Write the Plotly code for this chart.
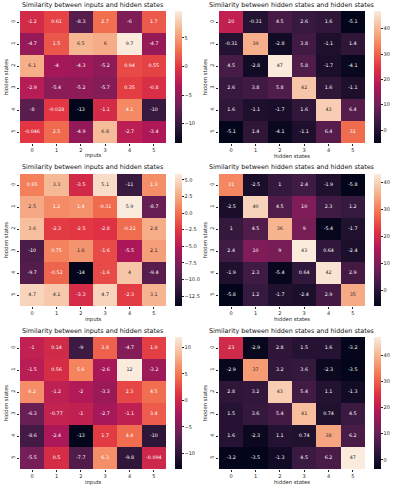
import plotly.graph_objects as go

# -------------------------------
# DATA
# -------------------------------
inp_hid_1 = [
    [-1.2, 0.61, -8.3, 2.7, -6, 1.7],
    [-4.7, 1.5, 6.5, 6, 9.7, -4.7],
    [6.1, -4, -4.3, -5.2, 0.94, 0.55],
    [-2.9, -5.4, -5.2, -5.7, 0.35, -0.8],
    [-8, -0.028, -13.4, -1.1, 4.1, -10],
    [-0.046, 2.5, -4.9, 6.8, -2.7, -3.4],
]
hid_hid_1 = [
    [20, -0.31, 4.5, 2.6, 1.6, -5.1],
    [-0.31, 39, -2.8, 3.8, -1.1, 1.4],
    [4.5, -2.8, 47, 5.8, -1.7, -4.1],
    [2.6, 3.8, 5.8, 42, 1.6, -1.1],
    [1.6, -1.1, -1.7, 1.6, 43, 6.4],
    [-5.1, 1.4, -4.1, -1.1, 6.4, 31],
]
inp_hid_2 = [
    [0.65, 3.3, -3.5, 5.1, -11, 1.3],
    [2.5, 1.2, 1.4, -0.31, 5.9, -8.7],
    [3.6, -2.3, -2.5, -2.8, -0.22, 2.8],
    [-10, 0.75, 1.6, -1.6, -5.5, 2.1],
    [-9.7, -0.52, -14, -1.6, 4, -9.4],
    [4.7, 4.1, -3.3, 4.7, -2.3, 3.1],
]
hid_hid_2 = [
    [31, -2.5, 1, 2.4, -1.9, -5.8],
    [-2.5, 40, 4.5, 10, 2.3, 1.2],
    [1, 4.5, 36, 9, -5.4, -1.7],
    [2.4, 10, 9, 43, 0.64, -2.4],
    [-1.9, 2.3, -5.4, 0.64, 42, 2.9],
    [-5.8, 1.2, -1.7, -2.4, 2.9, 35],
]
inp_hid_3 = [
    [-1, 0.14, -9, 3.8, -4.7, 1.9],
    [-1.5, 0.56, 5.6, -2.6, 12, -3.2],
    [6.2, -1.2, -2, -3.3, 2.3, 4.5],
    [-6.3, -0.77, -1, -2.7, -1.1, 3.4],
    [-8.6, -2.4, -13, 1.7, 4.4, -10],
    [-5.5, 0.5, -7.7, 6.3, -9.8, -0.094],
]
hid_hid_3 = [
    [23, -2.9, 2.8, 1.5, 1.6, -3.2],
    [-2.9, 37, 3.2, 3.6, -2.3, -3.5],
    [2.8, 3.2, 43, 5.4, 1.1, -1.3],
    [1.5, 3.6, 5.4, 41, 0.74, 4.5],
    [1.6, -2.3, 1.1, 0.74, 38, 6.2],
    [-3.2, -3.5, -1.3, 4.5, 6.2, 47],
]
tick_labels = ['0', '1', '2', '3', '4', '5']
cbar_steps = [5, 10, 2.5, 10, 5, 10]

panels = [
    (inp_hid_1, 'Similarity between inputs and hidden states', 'inputs'),
    (hid_hid_1, 'Similarity between hidden states and hidden states', 'hidden states'),
    (inp_hid_2, 'Similarity between inputs and hidden states', 'inputs'),
    (hid_hid_2, 'Similarity between hidden states and hidden states', 'hidden states'),
    (inp_hid_3, 'Similarity between inputs and hidden states', 'inputs'),
    (hid_hid_3, 'Similarity between hidden states and hidden states', 'hidden states'),
]

# -------------------------------
# STYLE
# -------------------------------
W, H = 399, 489
rocket = [
    (0.0, '#03051a'), (1 / 7, '#35193e'), (2 / 7, '#701f57'), (3 / 7, '#ad1759'),
    (4 / 7, '#e13342'), (5 / 7, '#f37651'), (6 / 7, '#f6b48f'), (1.0, '#faebdd'),
]
rows_px = [(11, 143), (174, 306), (337, 469)]
cols_px = [(20, 166), (219, 365)]
cbar_px = [175, 374]
txt = '#262626'


def hex_rgb(h):
    return [int(h[i:i + 2], 16) / 255 for i in (1, 3, 5)]


def cmap(f):
    for (a, ca), (b, cb) in zip(rocket[:-1], rocket[1:]):
        if f <= b:
            t = (f - a) / (b - a) if b > a else 0
            return [x + (y - x) * t for x, y in zip(hex_rgb(ca), hex_rgb(cb))]
    return hex_rgb(rocket[-1][1])


def luminance(rgb):
    lin = [c / 12.92 if c <= 0.03928 else ((c + 0.055) / 1.055) ** 2.4 for c in rgb]
    return 0.2126 * lin[0] + 0.7152 * lin[1] + 0.0722 * lin[2]


fig = go.Figure()
annotations = []

for k, (z, title, xlab) in enumerate(panels):
    r, c = divmod(k, 2)
    top, bot = rows_px[r]
    x0, x1 = cols_px[c]
    ax = '' if k == 0 else str(k + 1)
    flat = [v for row in z for v in row]
    zmin, zmax = min(flat), max(flat)
    step = cbar_steps[k]

    fig.add_trace(go.Heatmap(
        z=z, x=list(range(6)), y=list(range(6)),
        colorscale=[[p, col] for p, col in rocket],
        zmin=zmin, zmax=zmax,
        xaxis='x' + ax, yaxis='y' + ax,
        colorbar=dict(
            x=cbar_px[c] / W, xanchor='left', xpad=0, ypad=0,
            y=1 - (top + bot) / 2 / H, yanchor='middle',
            len=(bot - top) / H, lenmode='fraction', thickness=7,
            outlinewidth=0, ticks='outside', ticklen=2, tickwidth=0.6,
            tickcolor=txt, tickfont=dict(size=5, color=txt),
            tick0=0, dtick=step, tickformat='.1f' if step < 1 or step % 1 else 'd',
        ),
        hoverinfo='skip',
    ))

    xs, ys, labels, colors = [], [], [], []
    for i, row in enumerate(z):
        for j, v in enumerate(row):
            xs.append(j)
            ys.append(i)
            labels.append('{:.2g}'.format(v))
            f = (v - zmin) / (zmax - zmin)
            colors.append(txt if luminance(cmap(f)) > 0.408 else 'white')
    fig.add_trace(go.Scatter(
        x=xs, y=ys, text=labels, mode='text',
        textfont=dict(size=4.8, color=colors),
        xaxis='x' + ax, yaxis='y' + ax, showlegend=False, hoverinfo='skip',
    ))

    axis_common = dict(
        showgrid=False, zeroline=False, showline=False,
        ticks='outside', ticklen=2, tickwidth=0.6, tickcolor=txt,
        tickfont=dict(size=5, color=txt),
        tickvals=list(range(6)), ticktext=tick_labels,
    )
    fig.update_layout({
        'xaxis' + ax: dict(axis_common, domain=[x0 / W, x1 / W], range=[-0.5, 5.5],
                           anchor='y' + ax),
        'yaxis' + ax: dict(axis_common, domain=[1 - bot / H, 1 - top / H],
                           range=[5.5, -0.5], anchor='x' + ax, tickangle=-90),
    })

    cx = (x0 + x1) / 2 / W
    annotations.append(dict(
        text=title, x=cx, y=1 - (top - 1.5) / H, xref='paper', yref='paper',
        xanchor='center', yanchor='bottom', showarrow=False, borderpad=0,
        font=dict(size=6.4, color='#111'),
    ))
    annotations.append(dict(
        text=xlab, x=cx, y=1 - (bot + 13) / H, xref='paper', yref='paper',
        xanchor='center', yanchor='middle', showarrow=False, borderpad=0,
        font=dict(size=5.3, color=txt),
    ))
    annotations.append(dict(
        text='hidden states', x=(x0 - 14) / W, y=1 - (top + bot) / 2 / H,
        xref='paper', yref='paper', xanchor='center', yanchor='middle',
        textangle=-90, showarrow=False, borderpad=0,
        font=dict(size=5.3, color=txt),
    ))

fig.update_layout(
    width=W, height=H,
    margin=dict(l=0, r=0, t=0, b=0),
    paper_bgcolor='white', plot_bgcolor='white',
    font=dict(family='DejaVu Sans'),
    annotations=annotations,
    showlegend=False,
)

# page body has a default 8px margin; drop it so the figure sits at (0, 0)
fig.write_html("out.html", config={'displayModeBar': False},
               post_script="document.body.style.margin='0';")
